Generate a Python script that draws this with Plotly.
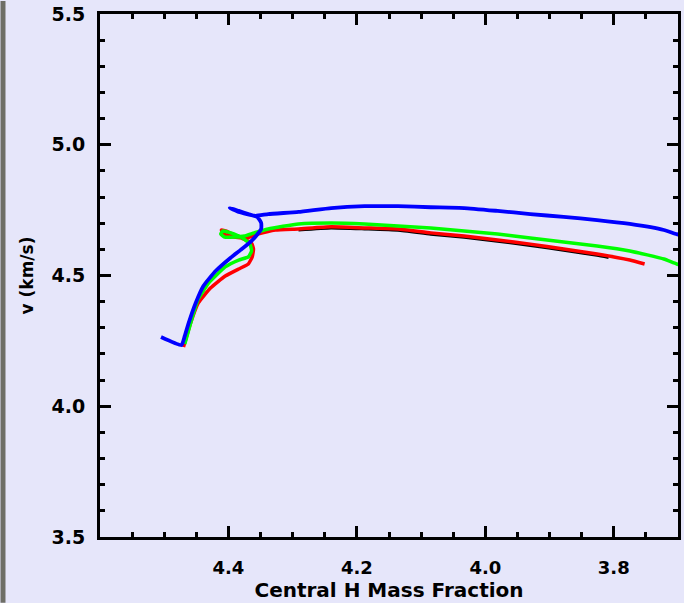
import plotly.graph_objects as go

# Blue track
blue_x = [4.505, 4.473, 4.468, 4.462, 4.451, 4.439, 4.420, 4.397, 4.381, 4.366, 4.357, 4.349,
          4.349, 4.355, 4.369, 4.384, 4.398, 4.384, 4.358, 4.338, 4.291, 4.240, 4.188, 4.136,
          4.085, 4.033, 3.981, 3.930, 3.878, 3.826, 3.775, 3.722, 3.702, 3.671]
blue_y = [4.265, 4.234, 4.269, 4.318, 4.395, 4.460, 4.517, 4.567, 4.598, 4.628, 4.651, 4.678,
          4.701, 4.724, 4.735, 4.747, 4.758, 4.743, 4.728, 4.735, 4.743, 4.758, 4.765, 4.765,
          4.761, 4.758, 4.747, 4.735, 4.724, 4.712, 4.697, 4.674, 4.658, 4.640]

# Green track
green_x = [4.468, 4.457, 4.447, 4.431, 4.405, 4.384, 4.369, 4.364, 4.366, 4.372, 4.384, 4.400,
           4.409, 4.412, 4.406, 4.391, 4.375, 4.360, 4.338, 4.291, 4.240, 4.188, 4.136, 4.085,
           4.033, 3.981, 3.930, 3.878, 3.826, 3.775, 3.722, 3.702, 3.671]
green_y = [4.238, 4.334, 4.410, 4.471, 4.533, 4.559, 4.571, 4.594, 4.617, 4.632, 4.651, 4.666,
           4.670, 4.659, 4.647, 4.647, 4.651, 4.663, 4.678, 4.697, 4.701, 4.697, 4.689, 4.682,
           4.670, 4.659, 4.643, 4.628, 4.613, 4.594, 4.563, 4.544, 4.525]

# Red track
red_x = [4.470, 4.459, 4.447, 4.428, 4.405, 4.384, 4.369, 4.363, 4.361, 4.364, 4.377, 4.392,
         4.403, 4.411, 4.408, 4.392, 4.372, 4.353, 4.327, 4.291, 4.240, 4.188, 4.136, 4.085,
         4.033, 3.981, 3.930, 3.878, 3.826, 3.775, 3.752]
red_y = [4.227, 4.318, 4.395, 4.452, 4.498, 4.525, 4.544, 4.571, 4.601, 4.624, 4.640, 4.655,
         4.670, 4.674, 4.659, 4.647, 4.643, 4.659, 4.674, 4.678, 4.686, 4.682, 4.678, 4.663,
         4.651, 4.636, 4.620, 4.601, 4.582, 4.559, 4.544]

# Black track (mostly hidden under red)
black_x = [4.291, 4.240, 4.188, 4.136, 4.085, 4.033, 3.981, 3.930, 3.878, 3.826, 3.808]
black_y = [4.675, 4.683, 4.679, 4.674, 4.659, 4.647, 4.632, 4.616, 4.597, 4.578, 4.570]

x_ticks = [4.4, 4.2, 4.0, 3.8]
x_labels = ["4.4", "4.2", "4.0", "3.8"]
y_ticks = [3.5, 4.0, 4.5, 5.0, 5.5]
y_labels = ["3.5", "4.0", "4.5", "5.0", "5.5"]

BG = "#E6E6FA"
FONT = "DejaVu Sans"

fig = go.Figure()
for xs, ys, col, w in [(black_x, black_y, "black", 3.5),
                       (red_x, red_y, "#FF0000", 3.5),
                       (green_x, green_y, "#00FF00", 3.5),
                       (blue_x, blue_y, "#0000FF", 3.8)]:
    fig.add_trace(go.Scatter(x=xs, y=ys, mode="lines",
                             line=dict(color=col, width=w, shape="spline", smoothing=0.4),
                             showlegend=False))

axis_common = dict(
    showgrid=False, zeroline=False, showline=True, linecolor="black", linewidth=3,
    mirror="allticks", ticks="inside", tickcolor="black", tickwidth=3,
)

fig.update_layout(
    width=684, height=603,
    paper_bgcolor=BG, plot_bgcolor=BG,
    margin=dict(l=100, r=3, t=13, b=66),
    showlegend=False,
    xaxis=dict(
        **axis_common,
        range=[4.6, 3.7], autorange=False,
        tickmode="array", tickvals=x_ticks, ticktext=x_labels, ticklen=11,
        tickfont=dict(family=FONT, size=18, color="black", weight="bold"),
        minor=dict(dtick=0.05, tick0=3.7, ticks="inside", ticklen=5, tickwidth=3,
                   tickcolor="black", showgrid=False),
        ticklabelstandoff=12,
        title=dict(text="Central H Mass Fraction", standoff=7,
                   font=dict(family=FONT, size=20, color="black", weight="bold")),
    ),
    yaxis=dict(
        **axis_common,
        range=[3.5, 5.5], autorange=False,
        tickmode="array", tickvals=y_ticks, ticktext=y_labels, ticklen=11,
        tickfont=dict(family=FONT, size=19, color="black", weight="bold"),
        minor=dict(dtick=0.1, tick0=3.5, ticks="inside", ticklen=5, tickwidth=3,
                   tickcolor="black", showgrid=False),
        ticklabelstandoff=8,
        title=dict(text="v (km/s)", standoff=14,
                   font=dict(family=FONT, size=17, color="black", weight="bold")),
    ),
)

# left gray strip of the window
fig.add_shape(type="rect", xref="paper", yref="paper",
              x0=-100 / 581, x1=-95 / 581, y0=-66 / 524, y1=1 + 13 / 524,
              line=dict(width=0), fillcolor="#6E6E66", layer="above")

fig.write_html(
    "out.html",
    config={"displayModeBar": False},
    post_script="document.body.style.margin='0';document.body.style.padding='0';"
                "document.body.style.background='#E6E6FA';document.body.style.overflow='hidden';",
)
